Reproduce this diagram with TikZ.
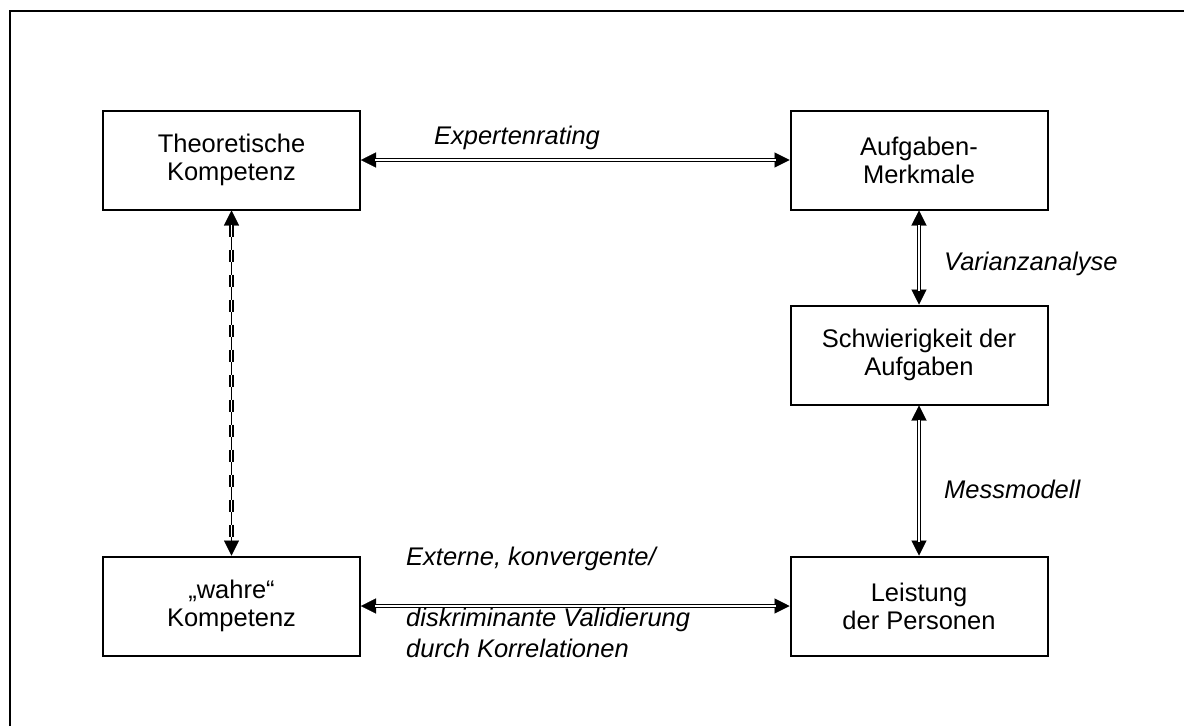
\documentclass[tikz,border=0pt]{standalone}
\usepackage{fontspec}
\setmainfont{Liberation Sans}
\usetikzlibrary{arrows.meta}
\tikzset{
  box/.style={draw, line width=2pt, minimum width=257pt, minimum height=99pt, align=center, inner sep=0pt, font=\fontsize{25.5}{28}\selectfont},
  lbl/.style={font=\fontsize{25.5}{28}\selectfont\itshape, inner sep=0pt},
  shaft/.style={double, line width=1.3pt, double distance=1.7pt},
  heads/.style={line width=0.2pt, {Triangle[length=15pt,width=15pt]}-{Triangle[length=15pt,width=15pt]}},
  dashshaft/.style={shaft, dash pattern=on 12pt off 13pt}
}
\begin{document}
\begin{tikzpicture}[x=1pt,y=-1pt]
\useasboundingbox (0,0) rectangle (1184,726);
\draw[line width=2.5pt] (10,726) -- (10,11) -- (1184,11);
\node[box] (th) at (231.5,160) {Theoretische\\Kompetenz};
\node[box] (am) at (919,160) {Aufgaben-\\Merkmale};
\node[box] (sa) at (919,355) {Schwierigkeit der\\Aufgaben};
\node[box] (lp) at (919,606) {Leistung\\der Personen};
\node[box] (wk) at (231.5,606) {„wahre“\\Kompetenz};
% top
\draw[heads] (th.east) -- (am.west);
\draw[shaft, shorten <=14pt, shorten >=14pt] (th.east) -- (am.west);
% bottom
\draw[heads] (wk.east) -- (lp.west);
\draw[shaft, shorten <=14pt, shorten >=14pt] (wk.east) -- (lp.west);
% left dashed
\draw[heads] (th.south) -- (wk.north);
\draw[dashshaft, shorten <=14pt, shorten >=14pt] (th.south) -- (wk.north);
% right verticals
\draw[heads] (am.south) -- (sa.north);
\draw[shaft, shorten <=14pt, shorten >=14pt] (am.south) -- (sa.north);
\draw[heads] (sa.south) -- (lp.north);
\draw[shaft, shorten <=14pt, shorten >=14pt] (sa.south) -- (lp.north);
% labels
\node[lbl] (l1) at (517,138) {Expertenrating};
\node[lbl, anchor=west] (l2) at (944,264) {Varianzanalyse};
\node[lbl, anchor=west] (l3) at (944,489) {Messmodell};
\node[lbl, anchor=west] (l4) at (406,559) {Externe, konvergente/};
\node[lbl, anchor=west] (l5) at (406,620) {diskriminante Validierung};
\node[lbl, anchor=west] (l6) at (406,648) {durch Korrelationen};
\end{tikzpicture}
\end{document}
